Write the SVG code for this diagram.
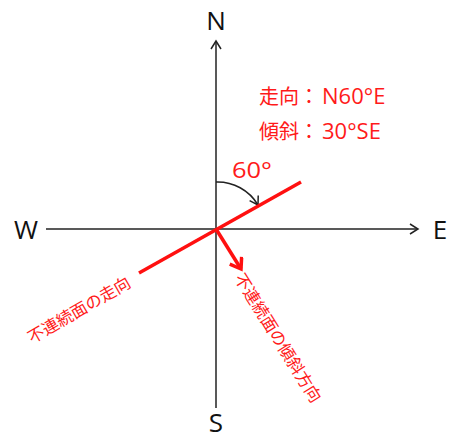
<svg xmlns="http://www.w3.org/2000/svg" width="452" height="436" viewBox="0 0 452 436">
<style>
.ax{stroke:#222;stroke-width:1.5;fill:none}
.lbl{font-family:"Open Sans","Liberation Sans",sans-serif;font-size:26px;fill:#111}
.red{font-family:"Noto Sans CJK JP","Liberation Sans",sans-serif;fill:#ff1a1a}
.lat{font-family:"Open Sans","Liberation Sans",sans-serif}
.rl{stroke:#ff1010;stroke-width:3.5;fill:none;stroke-linecap:butt}
</style>
<defs>
<marker id="open" markerWidth="12" markerHeight="12" refX="10" refY="6" orient="auto" markerUnits="userSpaceOnUse">
<path d="M2,1 L10,6 L2,11" fill="none" stroke="#222" stroke-width="1.5"/>
</marker>
<marker id="redhead" markerWidth="16" markerHeight="16" refX="13" refY="8" orient="auto" markerUnits="userSpaceOnUse">
<path d="M3,1 L13,8 L3,15" fill="none" stroke="#ff1010" stroke-width="3.5"/>
</marker>
</defs>
<g id="connectors">
<line class="ax" x1="216" y1="408" x2="216" y2="41" marker-end="url(#open)"/>
<line class="ax" x1="46" y1="229" x2="418" y2="229" marker-end="url(#open)"/>
<path class="ax" d="M216,182 A47,47 0 0 1 258,205" marker-end="url(#open)"/>
<line class="rl" x1="139" y1="273" x2="301" y2="182"/>
<line class="rl" x1="216" y1="229" x2="241" y2="269" marker-end="url(#redhead)"/>
</g>
<g id="N"><text class="lbl" x="216" y="30" text-anchor="middle">N</text></g>
<g id="S"><text class="lbl" x="216" y="432" text-anchor="middle">S</text></g>
<g id="W"><text class="lbl" x="26" y="239" text-anchor="middle">W</text></g>
<g id="E"><text class="lbl" x="440" y="239" text-anchor="middle">E</text></g>
<g id="angle"><text class="red lat" x="232" y="178" font-size="22" textLength="40" lengthAdjust="spacingAndGlyphs">60°</text></g>
<g id="strike"><text class="red" x="259" y="104" font-size="20">走向：<tspan class="lat" x="322" font-size="22">N60°E</tspan></text></g>
<g id="dip"><text class="red" x="259" y="139" font-size="20">傾斜：<tspan class="lat" x="322" font-size="22">30°SE</tspan></text></g>
<g id="strikeLabel"><text class="red" font-size="16.5" text-anchor="middle" transform="translate(82,315) rotate(-30)">不連続面の走向</text></g>
<g id="dipLabel"><text class="red" font-size="16.5" text-anchor="middle" transform="translate(273,341) rotate(58)">不連続面の傾斜方向</text></g>
</svg>
